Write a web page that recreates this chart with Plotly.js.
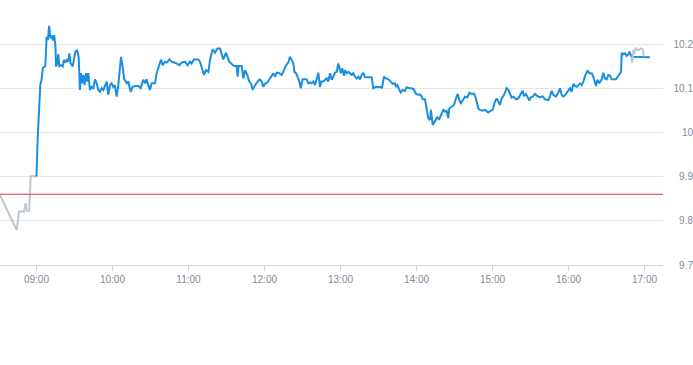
<!DOCTYPE html>
<html><head><meta charset="utf-8">
<script src="https://cdn.plot.ly/plotly-3.0.1.min.js"></script>
<style>html,body{margin:0;padding:0;overflow:hidden;background:#fff}#chart{width:693px;height:365px}</style>
</head><body><div id="chart"></div>
<script>
// minutes relative to 09:00
const preMinutes = [-28.8, -15.6, -13.8, -9.9, -8.5, -7.7, -5.7, -4.6, 0];
const prePrices  = [9.858, 9.779, 9.821, 9.821, 9.840, 9.823, 9.823, 9.901, 9.901];

const sessionMinutes = [
0,1,3,4,5,7,8,9,10,11,12,13,14,15,15.4,16.4,17.2,18,19.3,20.7,21.7,22.8,23.8,25.1,25.9,27,28.6,29.6,30.7,32.2,33.3,34.3,35.1,35.9,37,38,39.1,40.1,40.9,42.2,43.6,44.9,46.2,47.5,48.8,50.1,51.4,52.8,54.1,55.4,56.7,58,59.3,60.6,61.9,63.3,64.6,65.9,66.7,68,69.1,
71.2,72.5,74.3,75.9,77.8,80.4,82.2,84.3,85.7,86.9,88.3,89.6,90.9,93.6,94.9,97,98.3,99.6,101.4,102.8,104.9,106.7,108.6,110.7,112.7,114.6,117.2,119.3,121.2,122.5,124.3,127.8,129.1,130.4,132.2,133.8,135.7,137,139.1,140.9,142.8,144.9,146.2,147.5,149.6,150.7,152.2,154.1,155.9,158,158.8,159.5,162,
163.3,164.6,166.4,168,169.3,170.7,171.7,173.3,175.1,176.4,177.8,179.1,180.4,182.2,184.3,185.7,187,188.3,189.6,191.7,193.6,195.4,197,198.8,200.1,201.4,202.8,203.6,204.9,206,207.5,208.6,210.1,211.9,213.3,214.6,215.9,217.2,218.6,219.9,221.2,222.5,223.8,224.9,226.4,227.8,229.1,230.4,231.7,233.1,234.4,235.7,237,238.3,239.6,240.4,241.4,242.8,243.6,244.9,246.2,247.5,248.9,250.1,251.4,252.8,254.1,
255.4,256.7,258,259.3,262,264.6,265.9,268,269.9,271.7,272.8,274.3,275.9,277.8,279.6,281.2,283,283.8,284.9,286.5,287.5,289.1,290.9,292.2,294.3,296.2,298,299.6,301.4,303.3,304.9,306.7,308,309.3,310.7,311.4,312.8,314.6,316.4,318,319.3,321.2,322.5,323.8,325.1,325.9,327.8,329.6,331.2,332.5,333.9,335.1,337,338.3,340.1,341.7,343.5,345.4,346.9,348.8,
350.1,352.2,354.1,355.4,356.7,358.6,360.1,362,363.3,364.6,365.9,367.2,369.1,371.2,372.5,373.8,375.1,376.4,378.6,380.4,381.7,383.8,384.9,386.4,387.5,389.1,390.1,391.7,393.6,395.4,397.5,399.6,401.4,404.1,405.4,406.7,408,410.1,412,413.3,414.6,415.9,418,419.9,421.2,422.5,423.8,425.1,426.4,427.8,429.1,430.4,431.7,433.1,434.3,435.1,436.4,437.5,
438.3,439.6,440.9,441.7,442.8,444.3,446.2,447.5,448.8,450.1,451.4,452.8,454.1,455.4,457.5,459.3,460.7,461.5,462,463.3,464.6,465.9,467.3,468.1,469.1,469.9,484.3
];
const sessionPrices = [
9.900,9.990,10.107,10.119,10.145,10.150,10.217,10.209,10.241,10.213,10.220,10.208,10.220,10.194,10.149,10.156,10.177,10.150,10.152,10.149,10.164,10.158,10.164,10.160,10.179,10.156,10.149,10.164,10.183,10.185,10.171,10.096,10.134,10.111,10.130,10.107,10.134,10.115,10.134,10.096,10.103,10.100,10.120,10.111,10.096,10.092,10.100,10.096,10.107,10.115,10.085,10.107,10.111,10.103,10.107,10.081,10.107,10.145,10.171,10.149,10.122,
10.111,10.115,10.092,10.103,10.105,10.105,10.100,10.119,10.111,10.120,10.107,10.096,10.111,10.111,10.134,10.156,10.165,10.152,10.160,10.158,10.165,10.160,10.158,10.156,10.152,10.158,10.160,10.152,10.160,10.156,10.165,10.165,10.160,10.149,10.130,10.141,10.137,10.164,10.188,10.180,10.190,10.190,10.179,10.165,10.180,10.171,10.160,10.155,10.150,10.150,10.126,10.150,10.150,
10.122,10.141,10.130,10.115,10.111,10.096,10.103,10.111,10.117,10.120,10.115,10.103,10.110,10.113,10.122,10.130,10.134,10.126,10.135,10.134,10.130,10.141,10.152,10.158,10.171,10.165,10.156,10.137,10.134,10.126,10.115,10.100,10.120,10.120,10.120,10.111,10.113,10.111,10.115,10.107,10.119,10.135,10.103,10.115,10.115,10.119,10.122,10.115,10.134,10.119,10.126,10.135,10.137,10.156,10.141,10.134,10.145,10.128,10.141,10.134,10.137,10.134,10.130,10.134,10.126,10.122,10.126,
10.120,10.130,10.135,10.125,10.125,10.125,10.100,10.103,10.102,10.103,10.100,10.126,10.122,10.120,10.115,10.110,10.111,10.103,10.107,10.096,10.090,10.096,10.094,10.102,10.100,10.100,10.097,10.087,10.085,10.085,10.075,10.075,10.051,10.032,10.028,10.051,10.017,10.027,10.034,10.030,10.039,10.051,10.047,10.049,10.032,10.054,10.058,10.062,10.077,10.087,10.072,10.066,10.075,10.081,10.079,10.090,10.087,10.088,10.077,10.054,
10.051,10.049,10.051,10.047,10.045,10.049,10.051,10.070,10.077,10.070,10.062,10.077,10.085,10.100,10.096,10.088,10.079,10.081,10.075,10.077,10.085,10.094,10.082,10.087,10.081,10.072,10.079,10.081,10.087,10.082,10.079,10.082,10.075,10.073,10.082,10.094,10.085,10.081,10.090,10.100,10.085,10.081,10.087,10.096,10.100,10.092,10.110,10.105,10.103,10.107,10.111,10.107,10.115,10.128,10.135,10.140,10.134,10.135,
10.134,10.126,10.113,10.105,10.119,10.111,10.120,10.135,10.122,10.120,10.130,10.128,10.120,10.120,10.120,10.128,10.135,10.137,10.180,10.177,10.179,10.173,10.177,10.183,10.175,10.171,10.170
];

const postMinutes = [469.5, 470.3, 471.0, 472.0, 473.0, 475.0, 477.0, 478.5, 479.5];
const postPrices  = [10.170, 10.158, 10.186, 10.178, 10.190, 10.186, 10.190, 10.188, 10.172];

const prevClose = 9.86;
const xTickLabels = ['09:00','10:00','11:00','12:00','13:00','14:00','15:00','16:00','17:00'];
const yTickValues = [9.7, 9.8, 9.9, 10.0, 10.1, 10.2];
const yTickLabels = ['9.7','9.8','9.9','10','10.1','10.2'];
const xRangeMinutes = [-28.8, 494.6];
const yRange = [9.7, 10.2498];

const BASE = Date.UTC(2024, 2, 15, 9, 0, 0);
function toTime(m) {
  const d = new Date(BASE + Math.round(m * 60000));
  return d.toISOString().slice(0, 19).replace('T', ' ');
}
const tickVals = xTickLabels.map(function (s) { return '2024-03-15 ' + s + ':00'; });

const lineFont = '"Liberation Sans", Arial, sans-serif';
const labelColor = '#7f8b99';

const traces = [
  { x: preMinutes.map(toTime), y: prePrices, type: 'scatter', mode: 'lines',
    line: { color: '#bcc7ce', width: 2 }, hoverinfo: 'skip' },
  { x: sessionMinutes.map(toTime), y: sessionPrices, type: 'scatter', mode: 'lines',
    line: { color: '#1a8fdf', width: 2 }, hoverinfo: 'skip' },
  { x: postMinutes.map(toTime), y: postPrices, type: 'scatter', mode: 'lines',
    line: { color: '#bcc7ce', width: 2 }, hoverinfo: 'skip' }
];

const layout = {
  width: 693, height: 365,
  margin: { l: 0, r: 0, t: 22, b: 100, pad: 0 },
  paper_bgcolor: '#ffffff', plot_bgcolor: '#ffffff',
  showlegend: false,
  font: { family: lineFont, size: 10, color: labelColor },
  xaxis: {
    type: 'date', domain: [0, 663 / 693],
    range: [toTime(xRangeMinutes[0]), toTime(xRangeMinutes[1])],
    showgrid: false, zeroline: false,
    showline: true, linecolor: '#ccd6eb', linewidth: 1,
    ticks: 'outside', ticklen: 5, tickcolor: '#ccd6eb', tickwidth: 1,
    tickmode: 'array', tickvals: tickVals, ticktext: xTickLabels,
    tickfont: { family: lineFont, size: 10, color: labelColor },
    fixedrange: true
  },
  yaxis: {
    anchor: 'free', position: 1, side: 'left',
    range: yRange,
    tickmode: 'array', tickvals: yTickValues, ticktext: yTickLabels,
    showgrid: true, gridcolor: '#e6e6e6', gridwidth: 1,
    zeroline: false, showline: false, ticks: '',
    tickfont: { family: lineFont, size: 10, color: labelColor },
    fixedrange: true
  },
  shapes: [{
    type: 'line', xref: 'x domain', yref: 'y',
    x0: 0, x1: 1, y0: prevClose, y1: prevClose,
    line: { color: '#e53935', width: 1 }
  }]
};

Plotly.newPlot('chart', traces, layout, { displayModeBar: false, staticPlot: true });
</script>
</body></html>
